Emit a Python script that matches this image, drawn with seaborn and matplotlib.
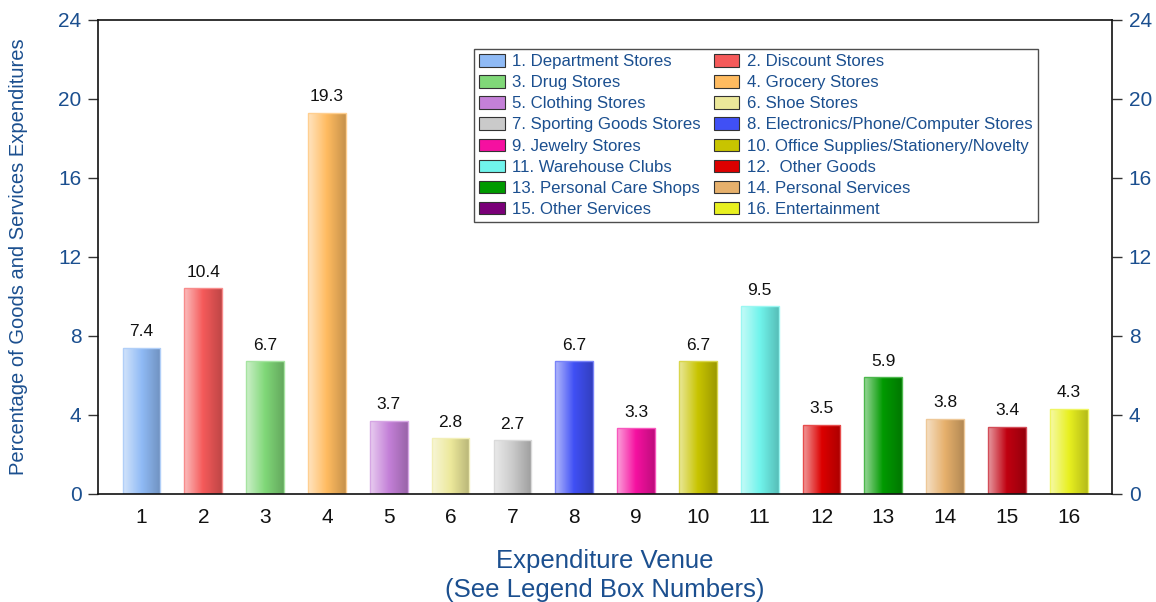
import numpy as np
import pandas as pd
import matplotlib
matplotlib.use("Agg")
import matplotlib.pyplot as plt
import matplotlib.colors as mcolors
from matplotlib.patches import Patch
import seaborn as sns

venues = ["1", "2", "3", "4", "5", "6", "7", "8",
          "9", "10", "11", "12", "13", "14", "15", "16"]
shares = [7.4, 10.4, 6.7, 19.3, 3.7, 2.8, 2.7, 6.7,
          3.3, 6.7, 9.5, 3.5, 5.9, 3.8, 3.4, 4.3]
legend_names = ["1. Department Stores", "2. Discount Stores", "3. Drug Stores",
                "4. Grocery Stores", "5. Clothing Stores", "6. Shoe Stores",
                "7. Sporting Goods Stores", "8. Electronics/Phone/Computer Stores",
                "9. Jewelry Stores", "10. Office Supplies/Stationery/Novelty",
                "11. Warehouse Clubs", "12.  Other Goods", "13. Personal Care Shops",
                "14. Personal Services", "15. Other Services", "16. Entertainment"]
legend_colors = ["#8fbaf5", "#f55a5a", "#80d878", "#ffbb60", "#c480d8", "#ece89a",
                 "#cacaca", "#4050f5", "#f510a0", "#c8c400", "#70f4ec", "#dc0000",
                 "#009a00", "#e6b06c", "#7a0078", "#e8f020"]
bar_colors = legend_colors[:14] + ["#c00010", "#e8f020"]

df = pd.DataFrame({"venue": venues, "share": shares})

sns.set_style("ticks")
plt.rcParams['font.family'] = ['Liberation Sans', 'DejaVu Sans']
blue = "#1b4f8f"

fig, ax = plt.subplots(figsize=(11.56, 6.02), dpi=100)
fig.subplots_adjust(left=0.085, right=0.962, top=0.967, bottom=0.18)

sns.barplot(data=df, x="venue", y="share", hue="venue", palette=bar_colors,
            legend=False, width=0.61, ax=ax, saturation=1)

# gradient fill: light on the left, darker on the right
for patch, col in zip(ax.patches, bar_colors):
    x, y, w, h = patch.get_bbox().bounds
    base = np.array(mcolors.to_rgb(col))
    light = base + (1 - base) * 0.6
    dark = base * 0.78
    t = np.linspace(0, 1, 64)
    grad = np.where(t[:, None] < 0.5,
                    light + (base - light) * (t[:, None] / 0.5),
                    base + (dark - base) * ((t[:, None] - 0.5) / 0.5))
    img = ax.imshow(grad[None, :, :], extent=(x, x + w, y, y + h), aspect="auto",
                    zorder=patch.get_zorder(), interpolation="bilinear")
    img.set_clip_path(patch)
    patch.set_facecolor("none")
    patch.set_edgecolor(tuple(base + (1 - base) * 0.3))
    patch.set_linewidth(1.0)
    patch.set_zorder(patch.get_zorder() + 0.1)

for patch, v in zip(ax.patches, shares):
    x, y, w, h = patch.get_bbox().bounds
    ax.annotate(f"{v:.1f}", (x + w / 2, y + h), xytext=(0, 6), textcoords="offset points",
                ha="center", va="bottom", fontsize=12.5, color="#111111")

ax.set_xlim(-0.7, 15.7)
ax.set_ylim(0, 24)
ax.set_yticks(range(0, 25, 4))
ax.tick_params(axis="y", direction="out", length=7, width=1, labelsize=15,
               colors="#333333", left=True, right=True,
               labelleft=True, labelright=True, pad=5)
for lab in ax.get_yticklabels():
    lab.set_color(blue)
ax.tick_params(axis="x", length=0, labelsize=15, labelcolor="#111111", pad=10)
for s in ax.spines.values():
    s.set_visible(True)
    s.set_linewidth(1.2)
    s.set_color("#111111")
ax.set_xlabel("Expenditure Venue\n(See Legend Box Numbers)", fontsize=18.5,
              color=blue, labelpad=16, linespacing=1.3)
ax.set_ylabel("Percentage of Goods and Services Expenditures", fontsize=14.5,
              color=blue, labelpad=22)

order = list(range(0, 16, 2)) + list(range(1, 16, 2))
handles = [Patch(facecolor=legend_colors[i], edgecolor="#333333", linewidth=0.8,
                 label=legend_names[i]) for i in order]
leg = ax.legend(handles=handles, ncol=2, loc="upper left",
                bbox_to_anchor=(0.371, 0.938), fontsize=12.1, frameon=True,
                fancybox=False, edgecolor="#222222", handlelength=1.5,
                handleheight=0.75, handletextpad=0.45, columnspacing=0.8,
                labelspacing=0.36, borderpad=0.3, borderaxespad=0)
leg.get_frame().set_linewidth(1.0)
for t in leg.get_texts():
    t.set_color(blue)

fig.savefig("out.png", dpi=100)
